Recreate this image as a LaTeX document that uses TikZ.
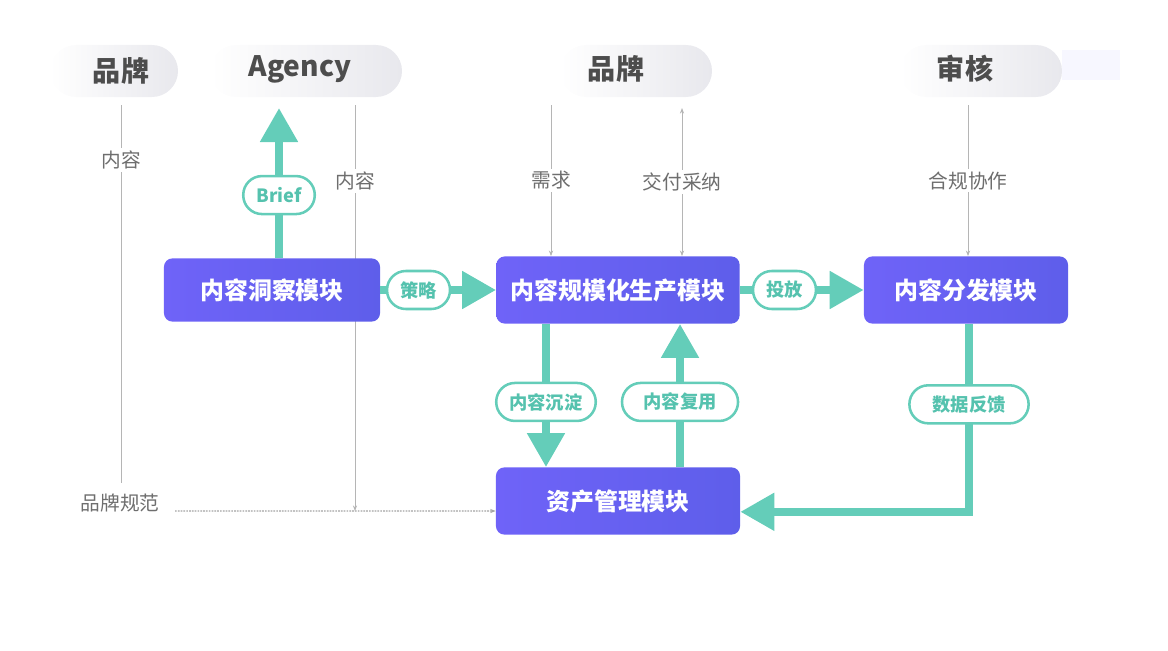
\documentclass[tikz,border=0pt]{standalone}
\usepackage{fontspec}
\usepackage{tikz}
\usetikzlibrary{arrows.meta,backgrounds}
\setmainfont{Noto Sans CJK SC}
\definecolor{boxL}{HTML}{6F63F8}
\definecolor{boxR}{HTML}{5E5EEA}
\definecolor{flowteal}{HTML}{64CDB9}
\definecolor{tagtxt}{HTML}{55C2AE}
\definecolor{guidegray}{HTML}{B5B5B5}
\definecolor{guidetxt}{HTML}{6E6E6E}
\definecolor{hdtxt}{HTML}{4D4D4D}
\definecolor{pillgray}{HTML}{E8E8ED}
\tikzset{
  modbox/.style={rounded corners=6, left color=boxL, right color=boxR, draw=none,
    text=white, font=\bfseries\fontsize{17}{20}\selectfont},
  tag/.style={draw=flowteal, line width=1.8pt, fill=white, rounded corners=0.47cm,
    minimum height=0.95cm, inner xsep=0.33cm, text=tagtxt,
    font=\bfseries\fontsize{13}{15}\selectfont},
  flow/.style={flowteal, line width=0.2cm, -{Triangle[length=0.85cm,width=0.9cm]}},
  guide/.style={guidegray, line width=0.6pt},
  guidetip/.style={-{Stealth[length=4pt,width=3pt]}},
  guidelab/.style={fill=white, text=guidetxt, inner sep=2pt, font=\fontsize{14}{16}\selectfont},
  hd/.style={text=hdtxt, font=\bfseries\fontsize{20}{24}\selectfont}
}
\begin{document}
\begin{tikzpicture}[x=0.025cm, y=-0.025cm]
\useasboundingbox (0,0) rectangle (1168,650);
% header pills
\shade[left color=white, right color=pillgray, rounded corners=0.65cm] (50,45) rectangle (178,97);
\shade[left color=white, right color=pillgray, rounded corners=0.65cm] (210,45) rectangle (402,97);
\shade[left color=white, right color=pillgray, rounded corners=0.65cm] (560,45) rectangle (712,97);
\shade[left color=white, right color=pillgray, rounded corners=0.65cm] (900,45) rectangle (1062,97);
\fill[blue!3] (1062,50) rectangle (1120,80);
\node[hd] (hdBrandL) at (121,71) {品牌};
\node[hd] (hdAgency) at (300,69) {Agency};
\node[hd] (hdBrandM) at (616,69) {品牌};
\node[hd] (hdAudit) at (965,69) {审核};

% modules
\node[modbox, minimum width=5.4cm, minimum height=1.58cm] (insight) at (272,290) {内容洞察模块};
\node[modbox, minimum width=6.08cm, minimum height=1.68cm] (prod) at (618,290) {内容规模化生产模块};
\node[modbox, minimum width=5.1cm, minimum height=1.68cm] (dist) at (966,290) {内容分发模块};
\node[modbox, minimum width=6.1cm, minimum height=1.68cm] (asset) at (618,501) {资产管理模块};
\node[text=guidetxt, font=\fontsize{14}{16}\selectfont] (brandSpec) at (120,503) {品牌规范};

% free ends
\coordinate (agTip) at (279,108);
\coordinate (topL) at (121,105);
\coordinate (botL) at (121,483);
\coordinate (topAg) at (355,105);
\coordinate (specStart) at (175,511);
\coordinate (topNeed) at (551,105);
\coordinate (topDeliv) at (682,108);
\coordinate (topAudit) at (968,105);

% thin guide lines, behind the modules
\begin{scope}[on background layer]
\draw[guide,guidetip,line width=0.9pt,dash pattern=on 1.2pt off 0.8pt,guidegray!90!black] (specStart) -- ([yshift=-0.25cm]asset.west);
\draw[guide] (topL) -- (botL) node[guidelab,pos=0.146] (labL) {内容};
\draw[guide,guidetip] (topAg) -- (topAg |- specStart) node[guidelab,pos=0.187] (labAg) {内容};
\draw[guide,guidetip] (topNeed) -- (prod.north -| topNeed) node[guidelab,pos=0.5] (labNeed) {需求};
\draw[guide,{Stealth[length=4pt,width=3pt]}-{Stealth[length=4pt,width=3pt]}] (topDeliv) -- (prod.north -| topDeliv) node[guidelab,pos=0.5] (labDeliv) {交付采纳};
\draw[guide,guidetip] (topAudit) -- (dist.north -| topAudit) node[guidelab,pos=0.5] (labAudit) {合规协作};
\end{scope}

% teal flows
\draw[flow] (insight.north -| agTip) -- (agTip) node[tag,pos=0.42] (tagBrief) {Brief};
\draw[flow] (insight.east) -- (prod.west) node[tag,pos=0.33] (tagPlan) {策略};
\draw[flow] (prod.east) -- (dist.west) node[tag,pos=0.36] (tagLaunch) {投放};
\draw[flow] ([xshift=-1.8cm]prod.south) -- ([xshift=-1.8cm]asset.north) node[tag,pos=0.545] (tagStore) {内容沉淀};
\draw[flow] ([xshift=1.55cm]asset.north) -- ([xshift=1.55cm]prod.south) node[tag,pos=0.455,minimum width=2.9cm] (tagReuse) {内容复用};
\draw[flow] ([xshift=0.075cm]dist.south) |- ([yshift=-0.27cm]asset.east) node[tag,pos=0.214,minimum width=2.98cm] (tagFeed) {数据反馈};
\end{tikzpicture}
\end{document}
